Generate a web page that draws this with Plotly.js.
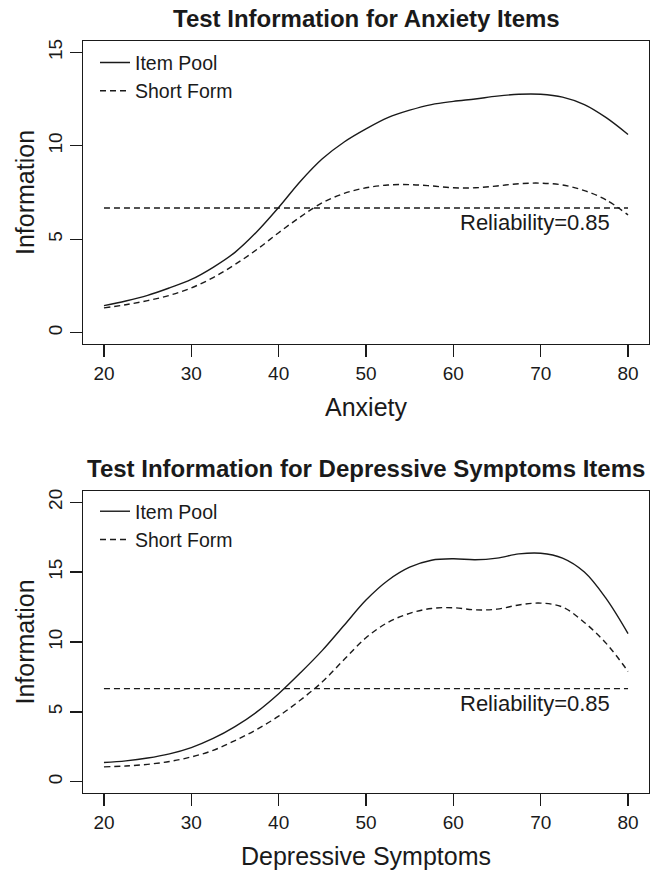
<!DOCTYPE html>
<html>
<head>
<meta charset="utf-8">
<script src="https://cdn.plot.ly/plotly-3.0.1.min.js"></script>
<style>html,body{margin:0;padding:0;background:#fff;}#chart{width:657px;height:871px;}</style>
</head>
<body>
<div id="chart"></div>
<script>
// ---- data ----
const theta = [20,22.5,25,27.5,30,32.5,35,37.5,40,42.5,45,47.5,50,52.5,55,57.5,60,62.5,65,67.5,70,72.5,75,77.5,80];
const anxPool  = [1.45,1.7,2.0,2.4,2.85,3.5,4.3,5.4,6.7,8.1,9.3,10.2,10.9,11.5,11.9,12.2,12.37,12.5,12.65,12.75,12.75,12.6,12.2,11.5,10.6];
const anxShort = [1.33,1.5,1.72,2.0,2.4,2.95,3.65,4.45,5.35,6.2,6.95,7.45,7.75,7.9,7.92,7.85,7.75,7.75,7.85,7.97,8.0,7.9,7.6,7.1,6.3];
const depPool  = [1.38,1.5,1.7,2.0,2.45,3.1,3.95,5.0,6.3,7.8,9.4,11.2,13.0,14.4,15.35,15.85,15.95,15.88,16.0,16.3,16.35,16.0,15.0,13.1,10.6];
const depShort = [1.07,1.13,1.25,1.45,1.78,2.25,2.95,3.75,4.7,5.85,7.15,8.75,10.3,11.4,12.05,12.4,12.45,12.3,12.35,12.65,12.78,12.5,11.4,9.9,7.9];
const relX = [20,80];
const relInfo = [6.667,6.667];
const relLabel = "Reliability=0.85";
const xTicks = [20,30,40,50,60,70,80];
const yTicksAnx = [0,5,10,15];
const yTicksDep = [0,5,10,15,20];
const seriesNames = ["Item Pool","Short Form"];
const titles = ["Test Information for Anxiety Items","Test Information for Depressive Symptoms Items"];
const xTitles = ["Anxiety","Depressive Symptoms"];
const yTitle = "Information";

// ---- style ----
const ink = '#1a1a1a';
const FONT = '"Liberation Sans", Arial, Helvetica, sans-serif';
const lineW = 1.4;
const dashPat = '6px,4px';

function tr(x, y, name, dash, xa, ya, lg, show){
  return {x:x, y:y, name:name, type:'scatter', mode:'lines',
    line:{color:ink, width:lineW, dash:dash, shape:'spline', smoothing:1},
    xaxis:xa, yaxis:ya, legend:lg, showlegend:show, hoverinfo:'skip'};
}

const data = [
  tr(theta, anxPool, seriesNames[0], 'solid', 'x', 'y', 'legend', true),
  tr(theta, anxShort, seriesNames[1], dashPat, 'x', 'y', 'legend', true),
  tr(relX, relInfo, 'rel', dashPat, 'x', 'y', 'legend', false),
  tr(theta, depPool, seriesNames[0], 'solid', 'x2', 'y2', 'legend2', true),
  tr(theta, depShort, seriesNames[1], dashPat, 'x2', 'y2', 'legend2', true),
  tr(relX, relInfo, 'rel', dashPat, 'x2', 'y2', 'legend2', false)
];
data.forEach(d=>{ if(d.name==='rel'){ d.line.shape='linear'; } });

function xax(title, anchor){
  return {anchor:anchor, range:[17.6,82.4], tickvals:xTicks, ticks:'outside', ticklen:12, tickwidth:1.2, tickcolor:ink,
    showline:true, mirror:true, linecolor:ink, linewidth:1.2, showgrid:false, zeroline:false,
    tickfont:{size:19, color:ink, family:FONT}, automargin:false,
    title:{text:title, font:{size:25, color:ink, family:FONT}, standoff:15}};
}
function yax(range, ticks, domain, anchor){
  return {anchor:anchor, domain:domain, range:range, tickvals:ticks, ticks:'outside', ticklen:12, tickwidth:1.2, tickcolor:ink,
    showline:true, mirror:true, linecolor:ink, linewidth:1.2, showgrid:false, zeroline:false, tickangle:-90,
    tickfont:{size:19, color:ink, family:FONT}, automargin:false,
    title:{text:yTitle, font:{size:25, color:ink, family:FONT}, standoff:3}};
}

const layout = {
  width:657, height:871,
  margin:{l:83, r:8, t:41, b:78},
  paper_bgcolor:'#fff', plot_bgcolor:'#fff',
  font:{family:FONT, color:ink},
  xaxis: xax(xTitles[0], 'y'),
  yaxis: yax([-0.6,15.6], yTicksAnx, [0.5971,1], 'x'),
  xaxis2: xax(xTitles[1], 'y2'),
  yaxis2: yax([-0.8,20.8], yTicksDep, [0,0.4016], 'x2'),
  legend:{x:0.0212, xanchor:'left', y:0.997, yanchor:'top', bgcolor:'rgba(0,0,0,0)', font:{size:19.5, color:ink, family:FONT}, itemwidth:30, tracegroupgap:0},
  legend2:{x:0.0212, xanchor:'left', y:0.4002, yanchor:'top', bgcolor:'rgba(0,0,0,0)', font:{size:19.5, color:ink, family:FONT}, itemwidth:30, tracegroupgap:0},
  annotations:[
    {text:'<b>'+titles[0]+'</b>', xref:'paper', yref:'paper', x:0.5, y:1.0293, xanchor:'center', yanchor:'middle', showarrow:false, font:{size:24, color:ink, family:FONT}},
    {text:'<b>'+titles[1]+'</b>', xref:'paper', yref:'paper', x:0.5, y:0.4309, xanchor:'center', yanchor:'middle', showarrow:false, font:{size:24, color:ink, family:FONT}},
    {text:relLabel, xref:'x', yref:'y', x:69.4, y:relInfo[0], yshift:-14.5, xanchor:'center', yanchor:'middle', showarrow:false, font:{size:22, color:ink, family:FONT}},
    {text:relLabel, xref:'x2', yref:'y2', x:69.4, y:relInfo[0], yshift:-14.5, xanchor:'center', yanchor:'middle', showarrow:false, font:{size:22, color:ink, family:FONT}}
  ]
};

Plotly.newPlot('chart', data, layout, {staticPlot:true, displayModeBar:false});
</script>
</body>
</html>
